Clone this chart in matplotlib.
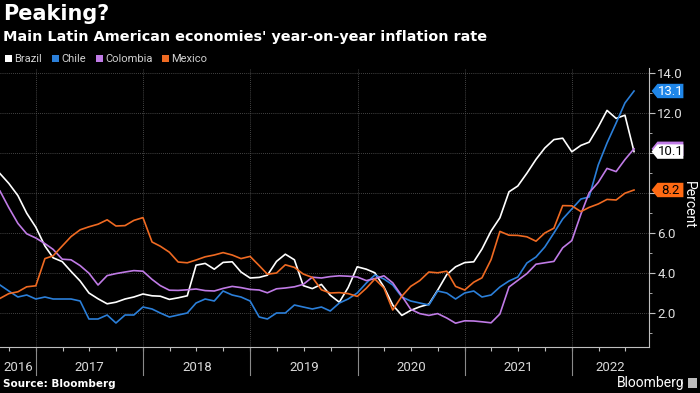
import matplotlib
matplotlib.use("Agg")
import matplotlib.pyplot as plt
import matplotlib.dates as mdates
import matplotlib.transforms as mtrans
from matplotlib.patches import Polygon, Rectangle
import numpy as np
import pandas as pd

# monthly year-on-year inflation, Aug 2016 .. Jul 2022
months = pd.date_range("2016-08-31", periods=72, freq="ME")

brazil = [8.97, 8.48, 7.87, 6.99, 6.29,
          5.35, 4.76, 4.57, 4.08, 3.60, 3.00, 2.71, 2.46, 2.54, 2.70, 2.80, 2.95,
          2.86, 2.84, 2.68, 2.76, 2.86, 4.39, 4.48, 4.19, 4.53, 4.56, 4.05, 3.75,
          3.78, 3.89, 4.58, 4.94, 4.66, 3.37, 3.22, 3.43, 2.89, 2.54, 3.27, 4.31,
          4.19, 4.01, 3.30, 2.40, 1.88, 2.13, 2.31, 2.44, 3.14, 3.92, 4.31, 4.52,
          4.56, 5.20, 6.10, 6.76, 8.06, 8.35, 8.99, 9.68, 10.25, 10.67, 10.74, 10.06,
          10.38, 10.54, 11.30, 12.13, 11.73, 11.89, 10.07]
chile = [3.4, 3.1, 2.8, 2.9, 2.7,
         2.8, 2.7, 2.7, 2.7, 2.6, 1.7, 1.7, 1.9, 1.5, 1.9, 1.9, 2.3,
         2.2, 2.0, 1.8, 1.9, 2.0, 2.5, 2.7, 2.6, 3.1, 2.9, 2.8, 2.6,
         1.8, 1.7, 2.0, 2.0, 2.4, 2.3, 2.2, 2.3, 2.1, 2.5, 2.7, 3.0,
         3.5, 3.9, 3.7, 3.4, 2.8, 2.6, 2.5, 2.4, 3.1, 3.0, 2.7, 3.0,
         3.1, 2.8, 2.9, 3.3, 3.6, 3.8, 4.5, 4.8, 5.3, 6.0, 6.7, 7.2,
         7.7, 7.8, 9.4, 10.5, 11.5, 12.5, 13.1]
colombia = [8.10, 7.27, 6.48, 5.96, 5.75,
            5.47, 5.18, 4.69, 4.66, 4.37, 3.99, 3.40, 3.87, 3.97, 4.05, 4.12, 4.09,
            3.68, 3.37, 3.14, 3.13, 3.16, 3.20, 3.12, 3.10, 3.23, 3.33, 3.27, 3.18,
            3.15, 3.01, 3.21, 3.25, 3.31, 3.43, 3.79, 3.75, 3.82, 3.86, 3.84, 3.80,
            3.62, 3.72, 3.86, 3.51, 2.85, 2.19, 1.97, 1.88, 1.97, 1.75, 1.49, 1.61,
            1.60, 1.56, 1.51, 1.95, 3.30, 3.63, 3.97, 4.44, 4.51, 4.58, 5.26, 5.62,
            6.94, 8.01, 8.53, 9.23, 9.07, 9.67, 10.21]
mexico = [2.73, 2.97, 3.06, 3.31, 3.36,
          4.72, 4.86, 5.35, 5.82, 6.16, 6.31, 6.44, 6.66, 6.35, 6.37, 6.63, 6.77,
          5.55, 5.34, 5.04, 4.55, 4.51, 4.65, 4.81, 4.90, 5.02, 4.90, 4.72, 4.83,
          4.37, 3.94, 4.00, 4.41, 4.28, 3.95, 3.78, 3.16, 3.00, 3.02, 2.97, 2.83,
          3.24, 3.70, 3.25, 2.15, 2.84, 3.33, 3.62, 4.05, 4.01, 4.09, 3.33, 3.15,
          3.54, 3.76, 4.67, 6.08, 5.89, 5.88, 5.81, 5.59, 6.00, 6.24, 7.37, 7.36,
          7.07, 7.28, 7.45, 7.68, 7.65, 7.99, 8.15]

names = ["Brazil", "Chile", "Colombia", "Mexico"]
colors = ["#ffffff", "#2b7fd9", "#c07be6", "#ef6a22"]
series = [brazil, chile, colombia, mexico]
years = [2016, 2017, 2018, 2019, 2020, 2021, 2022]
yticks = [2, 4, 6, 8, 10, 12, 14]

narrow = ["Roboto", "DejaVu Sans"]
bg = "#000000"
grey = "#bfbfbf"

fig = plt.figure(figsize=(7, 3.93), dpi=100, facecolor=bg)
ax = fig.add_axes([0.0, 1 - 347 / 393, 649 / 700, (347 - 68) / 393])
ax.set_facecolor(bg)

x0 = pd.Timestamp("2016-08-31")
x1 = pd.Timestamp("2022-09-20")
ax.set_xlim(x0, x1)
ax.set_ylim(0.3, 14.25)

for s, c in zip(series, colors):
    ax.plot(months, s, color=c, lw=1.2, zorder=3, solid_joinstyle="round")

# grid
for v in yticks:
    ax.axhline(v, color="#5a5a5a", lw=0.6, ls=(0, (1, 1.5)), zorder=1)
for y in years[1:]:
    ax.axvline(pd.Timestamp(f"{y}-01-01"), color="#5a5a5a", lw=0.6, ls=(0, (1, 1.5)), zorder=1)

# spines
for sp in ["top", "left"]:
    ax.spines[sp].set_visible(False)
ax.spines["bottom"].set_color(grey)
ax.spines["right"].set_color(grey)
ax.spines["bottom"].set_linewidth(0.8)
ax.spines["right"].set_linewidth(0.8)

# x axis: quarter ticks, year separators, centred year labels
ax.xaxis.set_major_locator(mdates.MonthLocator(bymonth=[1, 4, 7, 10]))
ax.tick_params(axis="x", which="major", length=3, color=grey, labelbottom=False)
trans = mtrans.blended_transform_factory(ax.transData, ax.transAxes)
for y in years[1:]:
    ax.plot([pd.Timestamp(f"{y}-01-01")] * 2, [0, -0.1], transform=trans,
            color="#8a8a8a", lw=0.8, clip_on=False)
for y in years:
    a = max(pd.Timestamp(f"{y}-01-01"), x0)
    b = min(pd.Timestamp(f"{y + 1}-01-01"), x1)
    mid = a + (b - a) / 2
    ax.text(mid, -0.075, str(y), transform=trans, ha="center", va="center",
            color="#d9d9d9", fontsize=9.5, family=narrow)

# y axis on the right
ax.yaxis.tick_right()
ax.set_yticks(yticks)
ax.set_yticklabels(["2.0", "4.0", "6.0", "", "", "12.0", "14.0"])
ax.set_yticks([1, 3, 5, 7, 9, 11, 13], minor=True)
ax.tick_params(axis="y", which="major", length=4, color=grey, labelcolor="#e0e0e0",
               labelsize=9.5, pad=2)
ax.tick_params(axis="y", which="minor", length=2, color=grey)
for lab in ax.get_yticklabels():
    lab.set_family(narrow)

# value tags at the right edge (Colombia's tag sits behind Brazil's)
tags = [(10.21, "", "#c07be6", "#000000"),
        (13.1, "13.1", "#1f86e8", "#ffffff"),
        (10.07, "10.1", "#ffffff", "#000000"),
        (8.15, "8.2", "#ff6a13", "#000000")]
ytrans = mtrans.blended_transform_factory(ax.transAxes, ax.transData)
for v, txt, fc, tc in tags:
    h = 0.36
    pts = [(1.004, v), (1.013, v + h), (1.053, v + h), (1.053, v - h), (1.013, v - h)]
    ax.add_patch(Polygon(pts, closed=True, facecolor=fc, edgecolor="none",
                         transform=ytrans, clip_on=False, zorder=5))
    if txt:
        ax.text(1.033, v - 0.02, txt, transform=ytrans, ha="center", va="center",
                color=tc, fontsize=9.5, family=narrow, zorder=6)

fig.text(689 / 700, 1 - 205 / 393, "Percent", rotation=-90, ha="center", va="center",
         color="#ffffff", fontsize=10, family=narrow)

# titles and legend
fig.text(0.004, 1 - 14 / 393, "Peaking?", color="#ffffff", fontsize=15,
         fontweight="bold", va="center", ha="left")
fig.text(0.004, 1 - 37 / 393, "Main Latin American economies' year-on-year inflation rate",
         color="#ffffff", fontsize=10.4, fontweight="bold", va="center", ha="left")

lx = [5, 52, 96, 162]
for xpos, n, c in zip(lx, names, colors):
    fig.patches.append(Rectangle((xpos / 700, 1 - 62 / 393), 7 / 700, 7 / 393,
                                 transform=fig.transFigure, facecolor=c, edgecolor="none"))
    fig.text((xpos + 9) / 700, 1 - 58.5 / 393, n, color="#d0d0d0", fontsize=8,
             family=narrow, va="center", ha="left")

fig.text(0.004, 1 - 384 / 393, "Source: Bloomberg", color="#ffffff", fontsize=7.5,
         fontweight="bold", va="center", ha="left")
fig.text(684 / 700, 1 - 383 / 393, "Bloomberg", color="#ffffff", fontsize=10,
         va="center", ha="right", family=narrow)
fig.patches.append(Rectangle((688 / 700, 1 - 388 / 393), 9 / 700, 10 / 393,
                             transform=fig.transFigure, facecolor="#bdbdbd", edgecolor="none"))

fig.savefig("out.png", dpi=100, facecolor=bg)
